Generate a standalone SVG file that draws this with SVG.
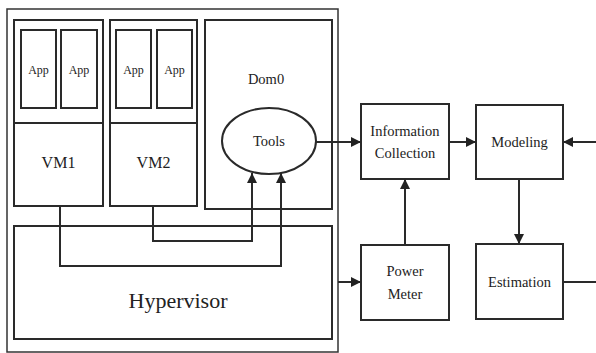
<svg xmlns="http://www.w3.org/2000/svg" width="596" height="353" viewBox="0 0 596 353">
  <defs>
    <marker id="arrow" viewBox="0 0 10 10" refX="10" refY="5" markerWidth="10" markerHeight="10" markerUnits="userSpaceOnUse" orient="auto">
      <path d="M0,0 L10,5 L0,10 z" fill="#222"/>
    </marker>
    <style>
      .box { fill: #fff; stroke: #2a2a2a; stroke-width: 2; }
      .frame { fill: #fff; stroke: #333; stroke-width: 1.5; }
      .line { fill: none; stroke: #2a2a2a; stroke-width: 2; }
      .arrowed { marker-end: url(#arrow); }
      .lbl { fill: #222; text-anchor: middle; dominant-baseline: central; }
      .app { font-size: 12px; }
      .mid { font-size: 16px; }
      .big { font-size: 22px; }
      .side { font-size: 14.5px; }
    </style>
  </defs>

  <rect width="596" height="353" fill="#fff"/>

  <g font-family="'Liberation Serif', 'DejaVu Serif', serif">
  <!-- physical host -->
  <g id="host">
    <rect class="frame" x="7" y="9" width="331" height="343"/>
  </g>

  <g id="vm1">
    <rect class="box" x="14" y="20" width="89" height="186"/>
    <line class="line" x1="14" y1="123" x2="103" y2="123"/>
    <rect class="box" x="21" y="30" width="35" height="78"/>
    <text class="lbl app" x="38.5" y="70">App</text>
    <rect class="box" x="61" y="30" width="36" height="78"/>
    <text class="lbl app" x="79" y="70">App</text>
    <text class="lbl mid" x="58.5" y="162">VM1</text>
  </g>

  <g id="vm2">
    <rect class="box" x="110" y="20" width="87" height="186"/>
    <line class="line" x1="110" y1="123" x2="197" y2="123"/>
    <rect class="box" x="116" y="30" width="35" height="78"/>
    <text class="lbl app" x="133.5" y="70">App</text>
    <rect class="box" x="157" y="30" width="35" height="78"/>
    <text class="lbl app" x="174.5" y="70">App</text>
    <text class="lbl mid" x="153.5" y="162">VM2</text>
  </g>

  <g id="dom0">
    <rect class="box" x="205" y="20" width="127" height="189"/>
    <text class="lbl side" x="266" y="79">Dom0</text>
  </g>

  <g id="tools">
    <ellipse class="box" cx="269" cy="141" rx="47" ry="33"/>
    <text class="lbl side" x="269" y="141">Tools</text>
  </g>

  <g id="hypervisor">
    <rect class="box" x="14" y="226" width="318" height="113"/>
    <text class="lbl big" x="178" y="300">Hypervisor</text>
  </g>

  <g id="info">
    <rect class="box" x="361" y="104" width="88" height="75"/>
    <text class="lbl side" x="405" y="131">Information</text>
    <text class="lbl side" x="405" y="153">Collection</text>
  </g>

  <g id="modeling">
    <rect class="box" x="476" y="105" width="87" height="74"/>
    <text class="lbl side" x="519.5" y="142">Modeling</text>
  </g>

  <g id="power">
    <rect class="box" x="361" y="245" width="88" height="75"/>
    <text class="lbl side" x="405" y="271">Power</text>
    <text class="lbl side" x="405" y="294">Meter</text>
  </g>

  <g id="estimation">
    <rect class="box" x="476" y="244" width="87" height="75"/>
    <text class="lbl side" x="519.5" y="282">Estimation</text>
  </g>
  </g>

  <g id="connectors">
    <polyline class="line arrowed" points="60,206 60,266 281,266 281,173"/>
    <polyline class="line arrowed" points="153,206 153,241 252,241 252,173"/>
    <line class="line arrowed" x1="316" y1="142" x2="361" y2="142"/>
    <line class="line arrowed" x1="449" y1="142" x2="476" y2="142"/>
    <line class="line arrowed" x1="596" y1="142" x2="563" y2="142"/>
    <line class="line arrowed" x1="405" y1="245" x2="405" y2="179"/>
    <line class="line arrowed" x1="338" y1="282" x2="361" y2="282"/>
    <line class="line arrowed" x1="519" y1="179" x2="519" y2="244"/>
    <line class="line" x1="563" y1="282" x2="596" y2="282"/>
  </g>
</svg>
